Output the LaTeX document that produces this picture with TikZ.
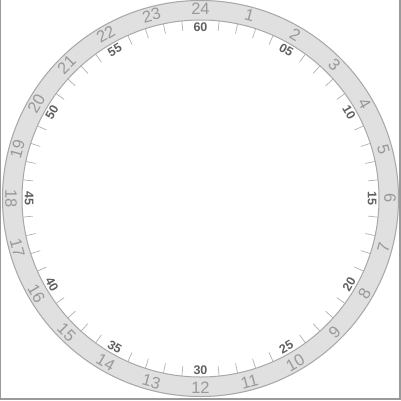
\documentclass[tikz,border=0pt]{standalone}
\usepackage{fontspec}
\setmainfont{Liberation Sans}
\usetikzlibrary{calc}
\definecolor{ringfill}{HTML}{E0E0E0}
\definecolor{ringline}{HTML}{A8A8A8}
\definecolor{hourgray}{HTML}{999999}
\definecolor{mingray}{HTML}{606060}
\definecolor{tickgray}{HTML}{B0B0B0}
\definecolor{framegray}{HTML}{9A9A9A}

\begin{document}
\begin{tikzpicture}[x=1pt,y=1pt,
        hourlabel/.style={text=hourgray,inner sep=0pt,font=\fontsize{16.5}{16.5}\selectfont},
        minlabel/.style={text=mingray,inner sep=0pt,font=\fontsize{12.5}{12.5}\selectfont\bfseries},
        minortick/.style={tickgray,line width=0.7pt}]
                \useasboundingbox (-200.5,-201.5) rectangle (200.5,198.5);
                \draw[framegray,line width=1.5pt] (-200,198.5) -- (-200,-200.6) -- (199.6,-200.6) -- (199.6,198.5);

                \coordinate (O) at (0,0);
                \fill[ringfill,even odd rule] (O) circle (198.5) (O) circle (178.5);
                \draw[ringline,line width=1pt] (O) circle (198) (O) circle (178.5);

                \foreach \i in {1,...,24}{
                \pgfmathsetmacro{\a}{mod(450-15*\i,360)}
                \pgfmathsetmacro{\rot}{ifthenelse(\a<180,\a-90,\a+90)}
                \node[hourlabel,rotate=\rot] (h\i) at ($(O)+(\a:189.5)$) {\i};
                }

                \foreach \t [count=\k from 0] in {60,05,10,15,20,25,30,35,40,45,50,55}{
                \pgfmathsetmacro{\a}{mod(450-30*\k,360)}
                \pgfmathsetmacro{\rot}{ifthenelse(\a<180,\a-90,\a+90)}
                \node[minlabel,rotate=\rot] (m\k) at ($(O)+(\a:171.5)$) {\t};
                }

                \foreach \q in {0,...,11}
                \foreach \s in {1,...,4}
                \draw[minortick] ($(O)+({90-6*(5*\q+\s)}:178.5)$) -- ($(O)+({90-6*(5*\q+\s)}:168.5)$);

            \end{tikzpicture}
\end{document}
